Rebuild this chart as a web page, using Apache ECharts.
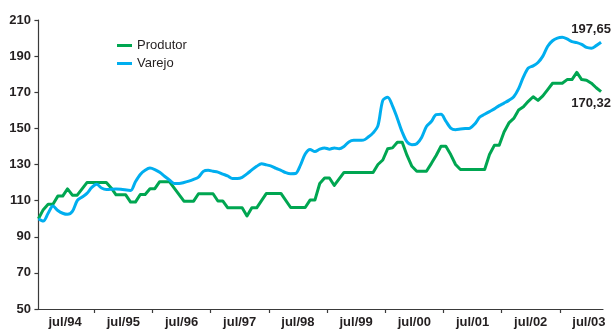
<!DOCTYPE html>
<html>
<head>
<meta charset="utf-8">
<script src="https://cdn.jsdelivr.net/npm/echarts@6/dist/echarts.min.js"></script>
<style>
  html, body { margin: 0; padding: 0; background: #ffffff; }
  #chart { width: 615px; height: 329px; }
</style>
</head>
<body>
<div id="chart"></div>
<script>
// Month index 0 = jul/1994; each series is stored as its turning points.
const produtorMonths = [0, 1, 2, 3, 4, 5, 6, 7, 8, 10, 14, 15, 16, 18, 19, 20, 21, 22, 23, 24, 25, 27, 30, 32, 33, 36, 37, 38, 39, 42, 43, 44, 45, 47, 50, 52, 55, 56, 57, 58, 59, 60, 61, 63, 69, 70, 71, 72, 73, 74, 75, 76, 77, 78, 80, 81, 82, 83, 84, 85, 86, 87, 92, 93, 94, 95, 96, 97, 98, 99, 100, 101, 102, 103, 104, 105, 106, 108, 109, 110, 111, 112, 113, 114, 115, 116];
const produtorValues = [100, 105, 108, 108, 112.5, 112.5, 116.5, 113, 113, 120, 120, 117, 113.2, 113.2, 109.2, 109.2, 113.4, 113.4, 116.6, 116.6, 120.5, 120.5, 109.7, 109.7, 113.8, 113.8, 109.8, 109.8, 106.1, 106.1, 101.5, 106, 106, 114, 114, 106.2, 106.2, 110.3, 110.3, 119.5, 122.5, 122.5, 118.4, 125.6, 125.6, 130, 132.5, 138.7, 139.2, 142.3, 142.3, 135, 129, 126.3, 126.3, 130.5, 135, 140.1, 140.1, 135.5, 130, 127.2, 127.2, 135.5, 140.6, 140.6, 148, 153, 155.5, 160.2, 162, 165, 167.5, 165.5, 168, 171.5, 175, 175, 177, 177, 181, 177, 176.7, 175, 172.5, 170.32];

const varejoMonths = [0, 1, 2, 3, 4, 5, 6, 7, 8, 9, 10, 11, 12, 13, 14, 16, 17, 19, 20, 21, 22, 23, 24, 25, 26, 27, 28, 29, 30, 31, 32, 33, 34, 35, 36, 37, 38, 39, 40, 41, 42, 43, 44, 45, 46, 47, 48, 49, 50, 51, 52, 53, 54, 55, 56, 57, 58, 59, 60, 61, 62, 63, 64, 65, 66, 67, 68, 69, 70, 71, 72, 73, 74, 75, 76, 77, 78, 79, 80, 81, 82, 83, 84, 85, 86, 87, 88, 89, 90, 91, 92, 93, 94, 95, 96, 97, 98, 99, 100, 101, 102, 103, 104, 105, 106, 107, 108, 109, 110, 111, 112, 113, 114, 115, 116];
const varejoValues = [100, 98.7, 103, 107, 104.5, 103, 102.4, 104, 110, 112, 114, 117.3, 119, 117, 116.2, 116.5, 116.3, 115.6, 120.5, 124.5, 126.8, 128, 127.2, 125.7, 123.5, 121.5, 119.5, 119.5, 120, 120.8, 121.8, 123, 126.2, 126.8, 126.3, 125.8, 124.7, 123.7, 122.3, 122.3, 122.9, 124.8, 127, 129, 130.4, 129.8, 129.1, 127.8, 126.8, 125.5, 124.9, 125, 129.5, 135.8, 138.3, 137.2, 138.5, 139.2, 138.5, 139.2, 138.7, 140, 142.5, 143.4, 143.4, 143.5, 145.2, 147.5, 151.5, 165.5, 167.3, 162.5, 155.5, 148, 142.5, 141, 141.5, 145, 151, 153.8, 157.6, 157.8, 154, 150.2, 149.3, 149.6, 149.9, 150.2, 152.5, 156.3, 157.8, 159.3, 160.8, 162.6, 164, 165.5, 167.5, 172, 178.5, 183.4, 184.6, 186.5, 190, 195.5, 198.5, 200, 200.4, 199.5, 198, 197.5, 196.5, 194.8, 194.4, 195.8, 197.65];

const yearLabels = ['jul/94', 'jul/95', 'jul/96', 'jul/97', 'jul/98', 'jul/99', 'jul/00', 'jul/01', 'jul/02', 'jul/03'];

const GREEN = '#00a651';
const BLUE = '#00aeef';
const INK = '#231f20';
const FONT = 'Liberation Sans, Arial, sans-serif';

function pairs(xs, ys) {
  return xs.map((m, k) => [m, ys[k]]);
}
function fmtBR(v) {
  return v.toFixed(2).replace('.', ',');
}

// each year occupies a 12-month band; labels sit mid-band, ticks on band edges
const labelPos = yearLabels.map((_, k) => 5.5 + 12 * k);
const tickPos = yearLabels.slice(1).map((_, k) => 11.5 + 12 * k);

// value tag at the final point of a series
function lastValueMark(xs, ys, pos) {
  const n = xs.length - 1;
  return {
    silent: true,
    symbol: 'rect',
    symbolSize: 1,
    itemStyle: { color: 'rgba(0,0,0,0)' },
    label: {
      show: true,
      position: pos,
      distance: 5,
      offset: [-10, pos === 'top' ? -1 : 0],
      formatter: p => fmtBR(p.data.coord[1]),
      fontFamily: FONT,
      fontSize: 13,
      fontWeight: 'bold',
      color: INK
    },
    data: [{ coord: [xs[n], ys[n]] }]
  };
}

const chart = echarts.init(document.getElementById('chart'), null, { renderer: 'canvas' });
chart.setOption({
  animation: false,
  backgroundColor: '#ffffff',
  grid: { left: 36, right: 12, top: 20, bottom: 19, containLabel: false },
  legend: {
    orient: 'vertical',
    left: 117,
    top: 39,
    padding: 0,
    itemWidth: 15,
    itemHeight: 3,
    itemGap: 5,
    icon: 'rect',
    textStyle: { fontFamily: FONT, fontSize: 13, color: INK },
    data: ['Produtor', 'Varejo']
  },
  xAxis: {
    type: 'value',
    min: -0.5,
    max: 116.4,
    splitLine: { show: false },
    axisLine: { show: true, lineStyle: { color: '#3a3a3a', width: 1.2 } },
    axisTick: { show: true, length: 4, inside: false, customValues: tickPos, lineStyle: { color: '#3a3a3a', width: 1.2 } },
    axisLabel: {
      customValues: labelPos,
      margin: 7,
      formatter: v => yearLabels[Math.round((v - 5.5) / 12)],
      fontFamily: FONT,
      fontSize: 13,
      fontWeight: 'bold',
      color: INK
    }
  },
  yAxis: {
    type: 'value',
    min: 50,
    max: 210,
    interval: 20,
    splitLine: { show: false },
    axisLine: { show: true, lineStyle: { color: '#3a3a3a', width: 1.2 } },
    axisTick: { show: true, length: 4, inside: false, lineStyle: { color: '#3a3a3a', width: 1.2 } },
    axisLabel: {
      margin: 5,
      fontFamily: FONT,
      fontSize: 13,
      fontWeight: 'bold',
      color: INK
    }
  },
  series: [
    {
      name: 'Produtor',
      type: 'line',
      color: GREEN,
      showSymbol: false,
      symbol: 'none',
      lineStyle: { width: 3, color: GREEN, join: 'round' },
      data: pairs(produtorMonths, produtorValues),
      markPoint: lastValueMark(produtorMonths, produtorValues, 'bottom')
    },
    {
      name: 'Varejo',
      type: 'line',
      color: BLUE,
      showSymbol: false,
      symbol: 'none',
      smooth: 0.3,
      lineStyle: { width: 3, color: BLUE, join: 'round' },
      data: pairs(varejoMonths, varejoValues),
      markPoint: lastValueMark(varejoMonths, varejoValues, 'top')
    }
  ]
});
</script>
</body>
</html>
